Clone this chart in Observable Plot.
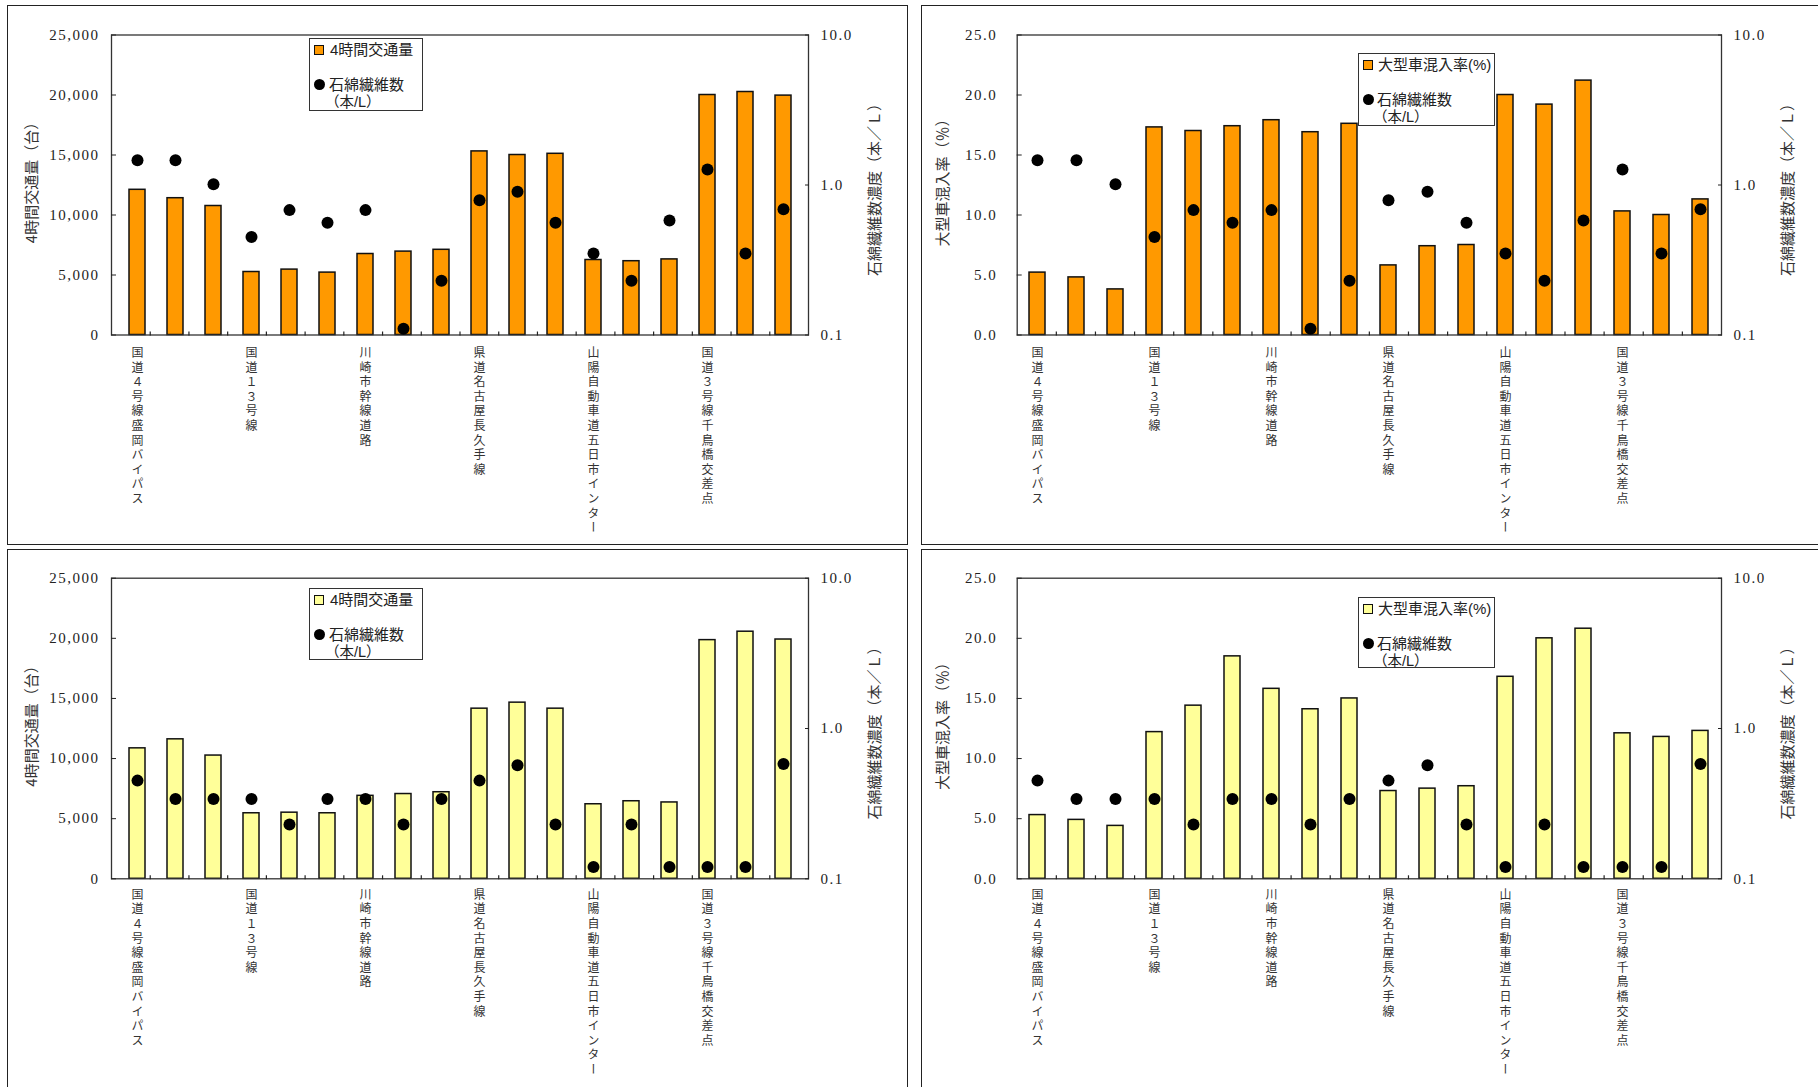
<!DOCTYPE html>
<html><head><meta charset="utf-8">
<script src="https://cdn.jsdelivr.net/npm/d3@7"></script>
<script src="https://cdn.jsdelivr.net/npm/@observablehq/plot@0.6"></script>
<style>
html,body{margin:0;padding:0;background:#fff;overflow:hidden;width:1818px;height:1087px;position:relative;}
.panel{position:absolute;border:1.5px solid #222;box-sizing:border-box;}
.legend{position:absolute;background:#fff;border:1.3px solid #333;box-sizing:border-box;font-family:"Liberation Sans","Noto Sans CJK JP";font-size:15px;color:#222;}
.legend div{position:absolute;white-space:nowrap;line-height:15px;}
</style></head><body><script>
// ---- data ----
const sites = ["1","2","3","4","5","6","7","8","9","10","11","12","13","14","15","16","17","18"];
const groupStart = ["1","4","7","10","13","16"];
const groupNames = ["国道４号線盛岡バイパス","国道１３号線","川崎市幹線道路","県道名古屋長久手線","山陽自動車道五日市インター","国道３号線千鳥橋交差点"];
const trafficTop = [12100, 11400, 10750, 5250, 5450, 5200, 6750, 6950, 7100, 15300, 15000, 15100, 6250, 6150, 6300, 20000, 20250, 19950];
const heavyTop = [5.2, 4.8, 3.8, 17.3, 17.0, 17.4, 17.9, 16.9, 17.6, 5.8, 7.4, 7.5, 20.0, 19.2, 21.2, 10.3, 10.0, 11.3];
const asbestosTop = [1.46, 1.46, 1.01, 0.45, 0.68, 0.56, 0.68, 0.11, 0.23, 0.79, 0.90, 0.56, 0.35, 0.23, 0.58, 1.27, 0.35, 0.69];
const trafficBottom = [10850, 11600, 10250, 5450, 5500, 5450, 6900, 7050, 7200, 14150, 14650, 14150, 6200, 6450, 6350, 19850, 20550, 19900];
const heavyBottom = [5.3, 4.9, 4.4, 12.2, 14.4, 18.5, 15.8, 14.1, 15.0, 7.3, 7.5, 7.7, 16.8, 20.0, 20.8, 12.1, 11.8, 12.3];
const asbestosBottom = [0.45, 0.34, 0.34, 0.34, 0.23, 0.34, 0.34, 0.23, 0.34, 0.45, 0.57, 0.23, 0.12, 0.23, 0.12, 0.12, 0.12, 0.58];
const trafficTicks = [0, 5000, 10000, 15000, 20000, 25000];
const heavyTicks = [0, 5, 10, 15, 20, 25];
const asbestosTicks = [0.1, 1, 10];
const trafficTitle = "4時間交通量（台）";
const heavyTitle = "大型車混入率（％）";
const asbestosTitle = "石綿繊維数濃度（本／Ｌ）";
const trafficLegend = "4時間交通量";
const heavyLegend = "大型車混入率(%)";
const asbestosLegend1 = "石綿繊維数";
const asbestosLegend2 = "（本/L）";
const orange = "#FF9900", yellow = "#FFFF99";

const JP = "Noto Sans CJK JP";
const SERIF = '"Liberation Serif", "DejaVu Serif", serif';

function place(el, left, top) {
  el.style.position = "absolute";
  el.style.left = left + "px";
  el.style.top = top + "px";
  el.style.maxWidth = "none";
  document.body.appendChild(el);
}

function serifTicks(svg) {
  svg.querySelectorAll('[aria-label="y-axis tick label"]').forEach(g => {
    g.style.fontFamily = SERIF;
    g.style.fontSize = "15px";
    g.style.letterSpacing = "1.5px";
  });
}

function panel(cfg) {
  const {L, T, W, H, mL, mR, mT, mB, bars, dots, fill, ticks, fmt, title, titleDx, tickGap, labelDy, legendText, lg} = cfg;
  const table = sites.map((s, i) => ({site: s, v: bars[i], a: dots[i]}));
  const labels = groupStart.map((s, i) => ({site: s, name: groupNames[i]}));
  const style = {"background": "transparent", "font-family": SERIF, "font-size": "15px", "color": "#222", "overflow": "visible"};
  const common = {width: W, height: H, marginLeft: mL, marginRight: mR, marginTop: mT, marginBottom: mB, style};
  const xBand = {type: "band", domain: sites, paddingInner: 0.58, paddingOuter: 0.29, axis: null};

  const border = document.createElement("div");
  border.className = "panel";
  border.style.left = L + "px"; border.style.top = T + "px";
  border.style.width = W + "px"; border.style.height = H + "px";
  document.body.appendChild(border);

  const svgBars = Plot.plot({
    ...common,
    x: xBand,
    y: {domain: [ticks[0], ticks[ticks.length - 1]]},
    marks: [
      Plot.barY(table, {x: "site", y: "v", fill, stroke: "#111", strokeWidth: 1.5}),
      Plot.frame({stroke: "#333", strokeWidth: 1.3}),
      Plot.axisY({anchor: "left", ticks, tickFormat: fmt, tickSize: -5, tickPadding: tickGap + 5, label: null}),
      Plot.text([title], {text: d => d, frameAnchor: "left", textAnchor: "middle", lineAnchor: "middle", dx: titleDx, dy: -6, rotate: -90, fontFamily: JP, fontSize: 15, fill: "#333"}),
      Plot.text(labels, {x: "site", text: "name", frameAnchor: "bottom", dy: labelDy, textAnchor: "start", fontFamily: JP, fontSize: 12, fill: "#333"})
    ]
  });
  svgBars.querySelectorAll("text").forEach(t => {
    if (groupNames.includes(t.textContent)) {
      t.removeAttribute("dy");
      t.style.writingMode = "vertical-rl";
      t.style.textOrientation = "upright";
      t.style.letterSpacing = "2.6px";
    }
  });
  serifTicks(svgBars);
  place(svgBars, L, T);

  const svgTicks = Plot.plot({
    width: W, height: H, marginLeft: mL, marginRight: mR, marginTop: H - mB, marginBottom: mB - 10, style,
    x: {type: "linear", domain: [0, sites.length]},
    marks: [Plot.axisX({anchor: "top", ticks: d3.range(1, sites.length), tickSize: 4, tickFormat: () => "", label: null, strokeWidth: 1.2})]
  });
  place(svgTicks, L, T);

  const svgDots = Plot.plot({
    ...common,
    x: xBand,
    y: {type: "log", domain: [0.1, 10]},
    marks: [
      Plot.dot(table, {x: "site", y: "a", r: 6, fill: "#000"}),
      Plot.axisY({anchor: "right", ticks: asbestosTicks, tickFormat: d3.format(".1f"), tickSize: -4, tickPadding: 16, label: null}),
      Plot.text([asbestosTitle], {text: d => d, frameAnchor: "right", textAnchor: "middle", lineAnchor: "middle", dx: 67, dy: 1, rotate: -90, fontFamily: JP, fontSize: 15, fill: "#333"})
    ]
  });
  serifTicks(svgDots);
  place(svgDots, L, T);

  const box = document.createElement("div");
  box.className = "legend";
  box.style.left = lg.x + "px"; box.style.top = lg.y + "px";
  box.style.width = lg.w + "px"; box.style.height = lg.h + "px";
  box.innerHTML = `
    <div style="left:4px;top:6px;width:10px;height:10px;box-sizing:border-box;background:${fill};border:1.5px solid #111"></div>
    <div style="left:${lg.tx}px;top:3px">${legendText}</div>
    <div style="left:3.5px;top:40px;width:11px;height:11px;border-radius:50%;background:#000"></div>
    <div style="left:${lg.tx - 1}px;top:38px">${asbestosLegend1}</div>
    <div style="left:${lg.tx - 5}px;top:56px;font-size:14.5px;line-height:14px">${asbestosLegend2}</div>`;
  document.body.appendChild(box);
}

panel({L: 7, T: 5, W: 901, H: 540, mL: 104, mR: 100, mT: 29.5, mB: 210.5,
  bars: trafficTop, dots: asbestosTop, fill: orange, ticks: trafficTicks, fmt: d3.format(","),
  title: trafficTitle, titleDx: -79, tickGap: 12, labelDy: 11.5, legendText: trafficLegend,
  lg: {x: 309, y: 38, w: 114, h: 73, tx: 20}});
panel({L: 921, T: 5, W: 901, H: 540, mL: 95.7, mR: 101, mT: 29.5, mB: 210.5,
  bars: heavyTop, dots: asbestosTop, fill: orange, ticks: heavyTicks, fmt: d3.format(".1f"),
  title: heavyTitle, titleDx: -74, tickGap: 20, labelDy: 11.5, legendText: heavyLegend,
  lg: {x: 1358, y: 53, w: 137, h: 73, tx: 19}});
panel({L: 7, T: 549, W: 901, H: 540, mL: 104, mR: 100, mT: 28.7, mB: 210.7,
  bars: trafficBottom, dots: asbestosBottom, fill: yellow, ticks: trafficTicks, fmt: d3.format(","),
  title: trafficTitle, titleDx: -79, tickGap: 12, labelDy: 9.5, legendText: trafficLegend,
  lg: {x: 309, y: 588, w: 114, h: 72, tx: 20}});
panel({L: 921, T: 549, W: 901, H: 540, mL: 95.7, mR: 101, mT: 28.7, mB: 210.7,
  bars: heavyBottom, dots: asbestosBottom, fill: yellow, ticks: heavyTicks, fmt: d3.format(".1f"),
  title: heavyTitle, titleDx: -74, tickGap: 20, labelDy: 9.5, legendText: heavyLegend,
  lg: {x: 1358, y: 597, w: 137, h: 71, tx: 19}});
</script></body></html>
